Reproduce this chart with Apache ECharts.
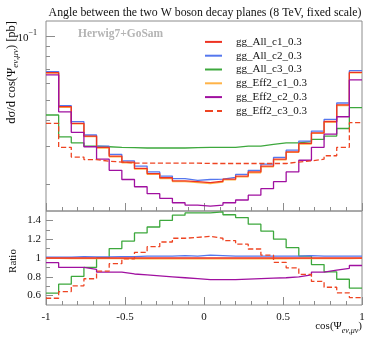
<!DOCTYPE html>
<html><head><meta charset="utf-8">
<script src="https://cdn.jsdelivr.net/npm/echarts@6/dist/echarts.min.js"></script>
<style>html,body{margin:0;padding:0;background:#fff}#c{width:374px;height:337px}</style>
</head><body><div id="c"></div>
<script>
// ---- data ----
const binEdges = [-1,-0.92,-0.84,-0.76,-0.68,-0.6,-0.52,-0.44,-0.36,-0.28,-0.2,-0.12,-0.04,0.04,0.12,0.2,0.28,0.36,0.44,0.52,0.6,0.68,0.76,0.84,0.92,1];
const seriesNames = ['gg_All_c1_0.3','gg_All_c2_0.3','gg_All_c3_0.3','gg_Eff2_c1_0.3','gg_Eff2_c2_0.3','gg_Eff2_c3_0.3'];
const allC1  = [0.0672,0.0464,0.0387,0.0337,0.0298,0.0271,0.0254,0.0237,0.0224,0.0214,0.0207,0.0205,0.0203,0.0206,0.0211,0.0218,0.0228,0.0243,0.0262,0.0284,0.0311,0.0349,0.0395,0.0473,0.0674];
const allC2  = [0.0680,0.0469,0.0394,0.0341,0.0302,0.0276,0.0257,0.0243,0.0228,0.0218,0.0212,0.0208,0.0210,0.0211,0.0215,0.0222,0.0232,0.0248,0.0267,0.0289,0.0319,0.0356,0.0404,0.0483,0.0687];
const allC3  = [0.0424,0.0334,0.0313,0.0302,0.0300,0.0298,0.0297,0.0296,0.0296,0.0296,0.0296,0.0297,0.0298,0.0298,0.0298,0.0302,0.0302,0.0308,0.0313,0.0313,0.0317,0.0325,0.0337,0.0366,0.0459];
const eff2C1 = [0.0669,0.0461,0.0385,0.0335,0.0296,0.0269,0.0252,0.0235,0.0222,0.0212,0.0205,0.0203,0.0201,0.0204,0.0209,0.0216,0.0226,0.0241,0.0260,0.0282,0.0309,0.0347,0.0392,0.0470,0.0670];
const eff2C2 = [0.0656,0.0439,0.0351,0.0300,0.0262,0.0232,0.0210,0.0194,0.0180,0.0171,0.0163,0.0159,0.0157,0.0159,0.0163,0.0168,0.0177,0.0190,0.0205,0.0228,0.0259,0.0298,0.0344,0.0416,0.0621];
const eff2C3 = [0.0387,0.0298,0.0268,0.0261,0.0256,0.0254,0.0251,0.0251,0.0251,0.0251,0.0251,0.0251,0.0250,0.0250,0.0250,0.0250,0.0250,0.0250,0.0250,0.0254,0.0257,0.0262,0.0272,0.0298,0.0390];

const ratioAllC1  = [1,1,1,1,1,1,1,1,1,1,1,1,1,1,1,1,1,1,1,1,1,1,1,1,1];
const ratioAllC2  = [1.01,1.01,1.015,1.012,1.013,1.015,1.015,1.02,1.02,1.02,1.025,1.02,1.03,1.025,1.02,1.02,1.02,1.02,1.02,1.02,1.025,1.02,1.02,1.02,1.02];
const ratioAllC3  = [0.626,0.722,0.804,0.90,1.0,1.10,1.18,1.267,1.33,1.40,1.456,1.48,1.48,1.49,1.46,1.43,1.36,1.285,1.20,1.11,1.02,0.93,0.853,0.774,0.68];
const ratioEff2C1 = [0.996,0.994,0.995,0.994,0.993,0.993,0.992,0.992,0.991,0.991,0.99,0.99,0.99,0.99,0.991,0.991,0.991,0.992,0.992,0.993,0.993,0.994,0.994,0.994,0.995];
const ratioEff2C2 = [0.95,0.90,0.90,0.88,0.85,0.85,0.83,0.82,0.81,0.80,0.79,0.78,0.77,0.77,0.77,0.775,0.78,0.785,0.79,0.80,0.82,0.85,0.87,0.89,0.92];
const ratioEff2C3 = [0.572,0.643,0.704,0.779,0.86,0.94,0.99,1.06,1.12,1.17,1.21,1.22,1.23,1.21,1.185,1.147,1.096,1.03,0.954,0.894,0.826,0.751,0.689,0.63,0.579];

const yRange = [0.0149, 0.118];
const ratioRange = [0.5, 1.5];
const yMajorTicks = [0.1];
const yMinorTicks = [0.02,0.03,0.04,0.05,0.06,0.07,0.08,0.09];
const ratioTicks = [0.6,0.8,1,1.2,1.4];
const ratioMinorTicks = [0.7,0.9,1.1,1.3];
const titleText = 'Angle between the two W boson decay planes (8 TeV, fixed scale)';

// ---- styles ----
const colors = ['#ee3322','#5577ee','#3da83d','#ffb347','#a010a0','#ee4422'];
const lineTypes = ['solid','solid','solid','solid','solid','dashed'];
const mainData = [allC1, allC2, allC3, eff2C1, eff2C2, eff2C3];
const ratioData = [ratioAllC1, ratioAllC2, ratioAllC3, ratioEff2C1, ratioEff2C2, ratioEff2C3];
const zOrder = [5,3,2,4,6,7];
const serif = 'Liberation Serif';
const gray = '#8c8c8c';
const noLine = {show:false, onZero:false};

function steps(vals){ return binEdges.map((e,i)=>[e, vals[Math.min(i, vals.length-1)]]); }

const series = [];
seriesNames.forEach((n,i)=>{
  series.push({name:n, type:'line', xAxisIndex:0, yAxisIndex:0, step:'end', showSymbol:false, symbol:'none',
    data: steps(mainData[i]), lineStyle:{color:colors[i], width:1.3, type:lineTypes[i]}, itemStyle:{color:colors[i]}, z:zOrder[i], animation:false, silent:true});
});
seriesNames.forEach((n,i)=>{
  series.push({name:n, type:'line', xAxisIndex:1, yAxisIndex:2, step:'end', showSymbol:false, symbol:'none',
    data: steps(ratioData[i]), lineStyle:{color:colors[i], width:1.3, type:lineTypes[i]}, itemStyle:{color:colors[i]}, z:zOrder[i], animation:false, silent:true});
});

const chart = echarts.init(document.getElementById('c'), null, {renderer:'canvas'});
const xCommon = {type:'value', min:-1, max:1, interval:0.5, axisLine:noLine, splitLine:{show:false},
  axisTick:{show:true, inside:true, length:8, lineStyle:{color:gray}},
  minorTick:{show:true, splitNumber:5, length:4, lineStyle:{color:gray}}};
chart.setOption({
  animation:false,
  title:{text:titleText, left:200, top:2, textAlign:'center', textStyle:{fontFamily:serif, fontSize:11.8, fontWeight:'normal', color:'#111'}},
  grid:[
    {left:46, right:12, top:21, height:190, show:true, borderColor:gray, borderWidth:1},
    {left:46, right:12, top:211, height:94, show:true, borderColor:gray, borderWidth:1}
  ],
  legend:{data:seriesNames, orient:'vertical', left:204, top:35, itemWidth:17, itemHeight:13.8, itemGap:0, padding:0,
    itemStyle:{opacity:0},
    textStyle:{fontFamily:serif, fontSize:11, lineHeight:13.8, color:'#111', padding:[0,0,0,9]}, selectedMode:false},
  xAxis:[
    Object.assign({gridIndex:0, axisLabel:{show:false}}, xCommon),
    Object.assign({gridIndex:1, axisLabel:{show:true, margin:7, fontFamily:serif, fontSize:11, color:'#111',
      formatter:v=>v===0?'0':(v<0?'-':'')+String(Math.abs(v))}}, xCommon)
  ],
  yAxis:[
    {gridIndex:0, type:'log', position:'left', min:yRange[0], max:yRange[1], axisLine:noLine, splitLine:{show:false}, minorTick:{show:false},
      axisTick:{show:true, inside:true, length:9, customValues:yMajorTicks, lineStyle:{color:gray}},
      axisLabel:{show:true, customValues:yMajorTicks, margin:9, formatter:()=>'{a|10}{s|−1}',
        rich:{a:{fontFamily:serif, fontSize:11, color:'#111', lineHeight:14, verticalAlign:'bottom'}, s:{fontFamily:serif, fontSize:8, color:'#111', lineHeight:8, verticalAlign:'top'}}}},
    {gridIndex:0, type:'log', position:'left', min:yRange[0], max:yRange[1], axisLine:noLine, splitLine:{show:false}, axisLabel:{show:false}, minorTick:{show:false},
      axisTick:{show:true, inside:true, length:4, customValues:yMinorTicks, lineStyle:{color:gray}}},
    {gridIndex:1, type:'value', position:'left', min:ratioRange[0], max:ratioRange[1], axisLine:noLine, splitLine:{show:false}, minorTick:{show:false},
      axisTick:{show:true, inside:true, length:7, customValues:ratioTicks, lineStyle:{color:gray}},
      axisLabel:{show:true, customValues:ratioTicks, margin:5, fontFamily:serif, fontSize:11, color:'#111', formatter:v=>String(+v.toFixed(1))}},
    {gridIndex:1, type:'value', position:'left', min:ratioRange[0], max:ratioRange[1], axisLine:noLine, splitLine:{show:false}, axisLabel:{show:false}, minorTick:{show:false},
      axisTick:{show:true, inside:true, length:4, customValues:ratioMinorTicks, lineStyle:{color:gray}}}
  ],
  graphic:[
    {type:'text', left:78, top:28, style:{text:'Herwig7+GoSam', font:'bold 11.5px "Liberation Serif"', fill:'#b4b4b4'}},
    {type:'text', x:13, y:21, rotation:Math.PI/2, style:{text:'{a|dσ/d cos(Ψ}{s|eν,μν}{a|) [pb]}', align:'right', verticalAlign:'middle',
      rich:{a:{fontFamily:serif, fontSize:12.5, fill:'#111', lineHeight:15, verticalAlign:'top'}, s:{fontFamily:serif, fontStyle:'italic', fontSize:9, fill:'#111', lineHeight:9, verticalAlign:'bottom'}}}},
    {type:'text', x:13, y:261, rotation:Math.PI/2, style:{text:'Ratio', align:'center', verticalAlign:'middle', font:'11px "Liberation Serif"', fill:'#111'}},
    {type:'text', right:12, top:321, style:{text:'{a|cos(Ψ}{s|eν,μν}{a|)}', 
      rich:{a:{fontFamily:serif, fontSize:11, fill:'#111', lineHeight:14, verticalAlign:'top'}, s:{fontFamily:serif, fontStyle:'italic', fontSize:8, fill:'#111', lineHeight:8, verticalAlign:'bottom'}}}}
  ],
  series:series
});
</script></body></html>
